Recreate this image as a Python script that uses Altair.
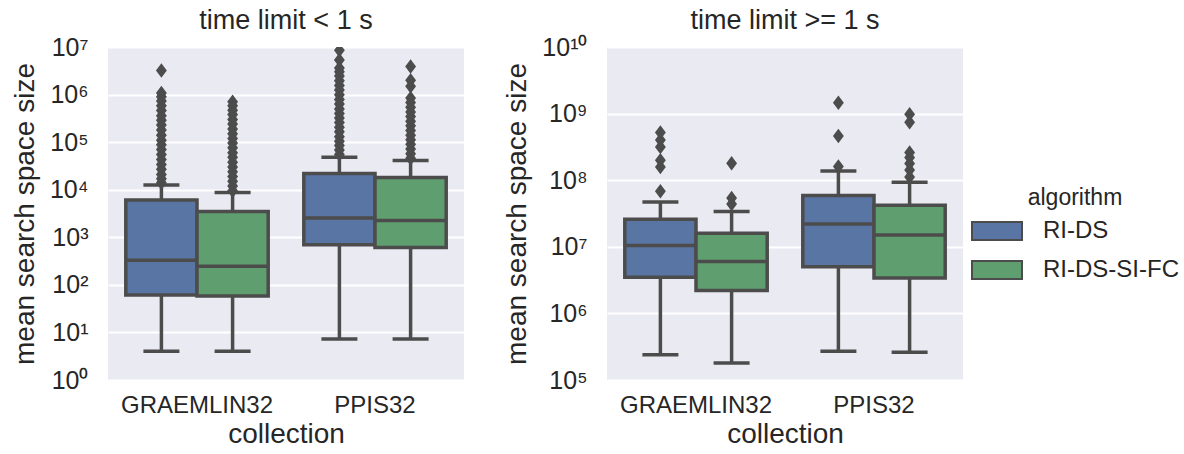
import altair as alt
import pandas as pd

# ---------------- data ----------------
collections = ["GRAEMLIN32", "PPIS32"]
algorithms = ["RI-DS", "RI-DS-SI-FC"]
palette = ["#5875a4", "#5f9e6e"]
panel_titles = ["time limit < 1 s", "time limit >= 1 s"]

box_collection = ["GRAEMLIN32", "GRAEMLIN32", "PPIS32", "PPIS32"]
box_algorithm = ["RI-DS", "RI-DS-SI-FC", "RI-DS", "RI-DS-SI-FC"]

# panel 1: time limit < 1 s
short_lo = [4.0, 4.0, 7.3, 7.3]
short_q1 = [61, 58, 700, 610]
short_med = [330, 245, 2550, 2250]
short_q3 = [6100, 3500, 22000, 18000]
short_hi = [12500, 8700, 48000, 41000]
short_out = [
    [14000, 17000, 21000, 27000, 34000, 43000, 55000, 70000, 88000, 110000,
     140000, 180000, 230000, 290000, 360000, 460000, 580000, 730000, 900000,
     1080000, 3200000],
    [9500, 12000, 15000, 19000, 24000, 30000, 38000, 48000, 60000, 76000,
     96000, 120000, 150000, 190000, 240000, 300000, 380000, 470000, 580000,
     710000],
    [55000, 68000, 85000, 105000, 130000, 165000, 205000, 260000, 320000,
     400000, 500000, 630000, 790000, 990000, 1250000, 1550000, 1950000,
     2450000, 3000000, 3600000, 5300000, 8500000],
    [46000, 57000, 72000, 90000, 112000, 140000, 175000, 220000, 275000,
     345000, 430000, 540000, 680000, 850000, 1500000, 2000000, 3900000],
]

# panel 2: time limit >= 1 s
long_lo = [2.4e5, 1.8e5, 2.7e5, 2.6e5]
long_q1 = [3.5e6, 2.2e6, 5.0e6, 3.4e6]
long_med = [1.05e7, 6.0e6, 2.2e7, 1.5e7]
long_q3 = [2.6e7, 1.6e7, 5.9e7, 4.2e7]
long_hi = [4.7e7, 3.4e7, 1.37e8, 9.3e7]
long_out = [
    [6.8e7, 1.58e8, 2.0e8, 3.15e8, 4.0e8, 5.2e8],
    [4.4e7, 5.4e7, 1.8e8],
    [1.6e8, 4.6e8, 1.45e9],
    [1.12e8, 1.42e8, 1.78e8, 2.2e8, 2.6e8, 7.4e8, 9.8e8],
]

short_ticks = [1, 10, 100, 1e3, 1e4, 1e5, 1e6, 1e7]
long_ticks = [1e5, 1e6, 1e7, 1e8, 1e9, 1e10]

# ---------------- styling ----------------
GRAY = "#4c4c4c"
TEXT = "#262626"
FONT = "Liberation Sans"
LW = 3.5
DIAMOND = "M0,-1L0.75,0L0,1L-0.75,0Z"
SUP = "['\u2070','\u00b9','\u00b2','\u00b3','\u2074','\u2075','\u2076','\u2077','\u2078','\u2079']"
EXP = "round(log(datum.value)/LN10)"
LABEL_EXPR = ("'10' + (" + EXP + " >= 10 ? '\u00b9' + " + SUP + "[" + EXP + " - 10] : "
              + SUP + "[" + EXP + "])")


def panel(lo, q1, med, q3, hi, outs, title, ticks):
    box_df = pd.DataFrame({
        "collection": box_collection, "algorithm": box_algorithm,
        "lo": lo, "q1": q1, "med": med, "q3": q3, "hi": hi,
    })
    rows = []
    for c, a, vals in zip(box_collection, box_algorithm, outs):
        for v in vals:
            rows.append({"collection": c, "algorithm": a, "value": v})
    out_df = pd.DataFrame(rows)

    x = alt.X("collection:N", sort=collections,
              scale=alt.Scale(paddingInner=0.2, paddingOuter=0.1),
              axis=alt.Axis(title="collection", labelAngle=0, grid=False,
                            domain=False, ticks=False, labelPadding=13,
                            labelFontSize=24, titleFontSize=28, titlePadding=3))
    xo = alt.XOffset("algorithm:N", sort=algorithms,
                     scale=alt.Scale(paddingInner=0, paddingOuter=0))
    ysc = alt.Scale(type="log", domain=[ticks[0], ticks[-1]], nice=False)
    yax = alt.Axis(title="mean search space size", values=ticks,
                   labelExpr=LABEL_EXPR, grid=True, gridColor="white",
                   gridWidth=2, domain=False, ticks=False, labelPadding=20,
                   labelFontSize=25, titleFontSize=28, titlePadding=10)

    def Y(f):
        return alt.Y(f, scale=ysc, axis=yax)

    base = alt.Chart(box_df).encode(x=x, xOffset=xo)
    whisk = base.mark_rule(color=GRAY, strokeWidth=LW).encode(y=Y("lo:Q"), y2="hi:Q")
    box = base.mark_bar(stroke=GRAY, strokeWidth=LW, opacity=1).encode(
        y=Y("q1:Q"), y2="q3:Q",
        color=alt.Color("algorithm:N", sort=algorithms,
                        scale=alt.Scale(domain=algorithms, range=palette),
                        legend=alt.Legend(title="algorithm")))
    medl = base.mark_tick(color=GRAY, thickness=LW, size=70, opacity=1).encode(y=Y("med:Q"))
    cap_lo = base.mark_tick(color=GRAY, thickness=LW, size=36, opacity=1).encode(y=Y("lo:Q"))
    cap_hi = base.mark_tick(color=GRAY, thickness=LW, size=36, opacity=1).encode(y=Y("hi:Q"))
    fliers = alt.Chart(out_df).mark_point(
        shape=DIAMOND, filled=True, size=210, color=GRAY, opacity=1, clip=True
    ).encode(x=x, xOffset=xo, y=Y("value:Q"))

    return alt.layer(whisk, box, medl, cap_lo, cap_hi, fliers).properties(
        width=356, height=333,
        title=alt.TitleParams(title, fontSize=27, font=FONT, color=TEXT,
                              fontWeight="normal", offset=0))


left = panel(short_lo, short_q1, short_med, short_q3, short_hi, short_out,
             panel_titles[0], short_ticks)
right = panel(long_lo, long_q1, long_med, long_q3, long_hi, long_out,
              panel_titles[1], long_ticks)

chart = alt.hconcat(left, right, spacing=39).properties(
    padding={"left": 11, "top": 7, "right": 5, "bottom": 3}
).configure_view(
    fill="#eaeaf2", stroke=None
).configure_axis(
    labelFont=FONT, titleFont=FONT, labelColor=TEXT, titleColor=TEXT,
    titleFontWeight="normal"
).configure_legend(
    orient="none", legendX=863, legendY=140,
    titleFont=FONT, labelFont=FONT, titleFontSize=23, labelFontSize=24,
    titleColor=TEXT, labelColor=TEXT, titleFontWeight="normal",
    titleAnchor="middle", titlePadding=-5,
    symbolType="M-1,-0.36L1,-0.36L1,0.36L-1,0.36Z", symbolSize=2500,
    symbolStrokeColor=GRAY, symbolStrokeWidth=2, symbolOpacity=1,
    labelOffset=20, rowPadding=-6
)

chart.save("out.html", embed_options={"renderer": "svg", "actions": False})
